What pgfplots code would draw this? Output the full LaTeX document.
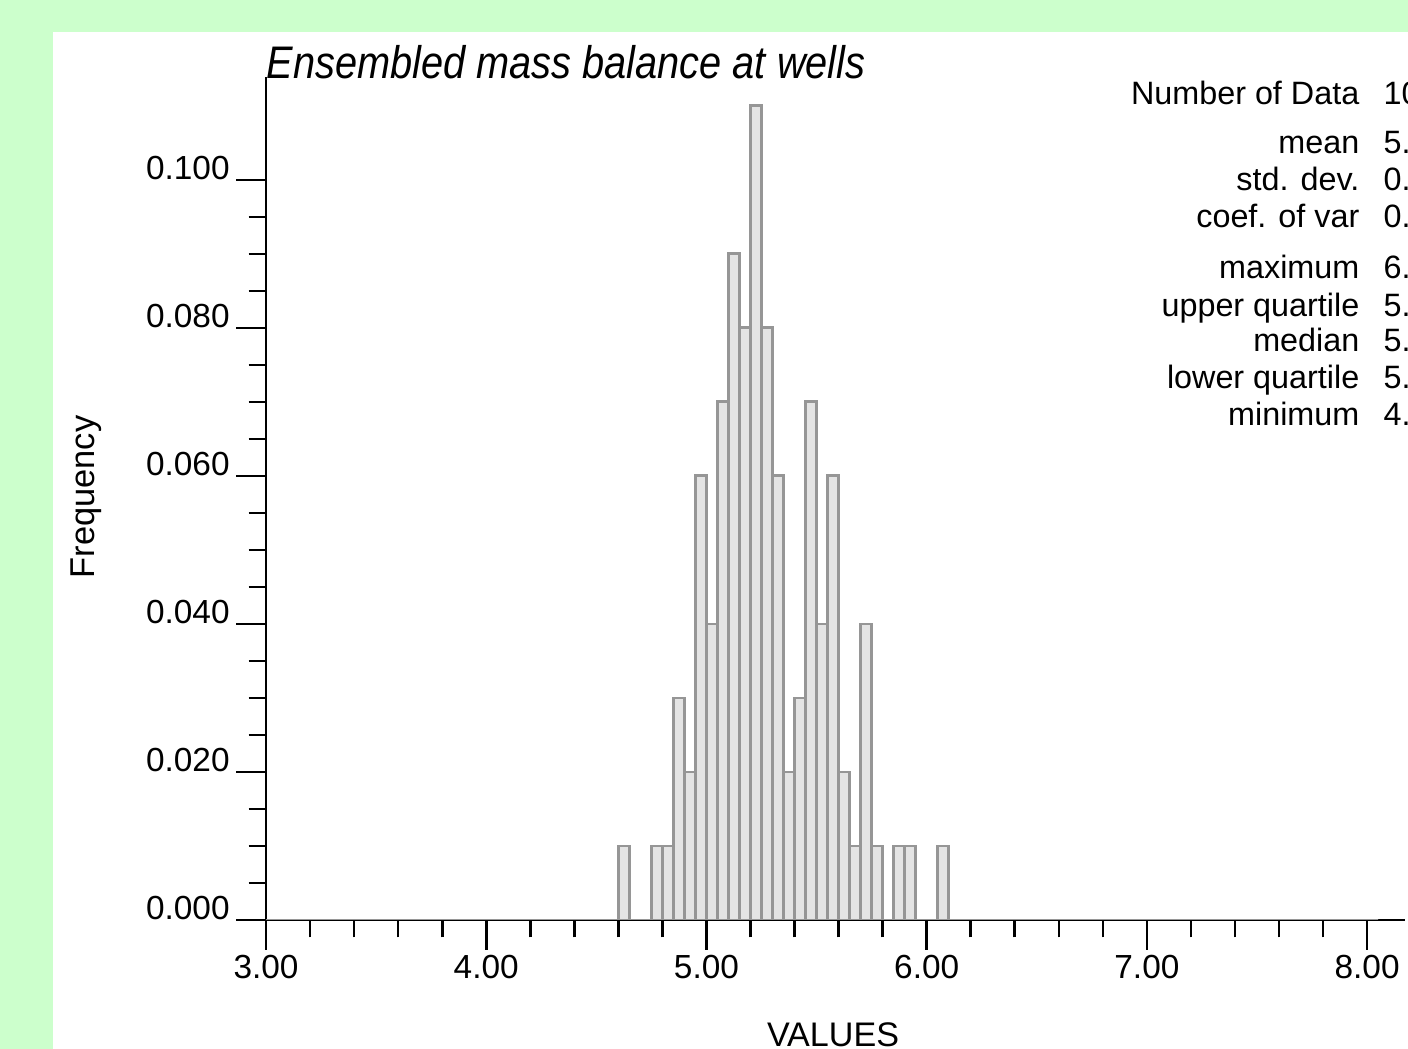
\documentclass[border=0pt]{standalone}
\usepackage{fontspec}
\setmainfont{Liberation Sans}
\usepackage{graphicx}
\usepackage{pgfplots}
\pgfplotsset{compat=1.18}

\definecolor{bggreen}{RGB}{204,255,204}
\definecolor{barfill}{RGB}{228,228,228}
\definecolor{baredge}{RGB}{150,150,150}

\begin{document}
\begin{tikzpicture}[x=1cm,y=1cm]
  % page: green frame, white panel
  \fill[bggreen] (0,0) rectangle (14.08,10.49);
  \fill[white] (0.53,0) rectangle (14.08,10.17);
  \begin{scope}
  \clip (0,0) rectangle (14.08,10.49);
  \begin{axis}[
    at={(2.66cm,1.29cm)}, anchor=south west,
    scale only axis, width=11.39cm, height=8.43cm,
    xmin=3, xmax=8.172, ymin=0, ymax=0.1139,
    axis lines*=left,
    axis line style={black, line width=0.75pt},
    every tick/.style={black, line width=0.75pt},
    tick align=outside,
    major tick length=0.3cm, minor tick length=0.175cm,
    xtick={3,4,5,6,7,8}, minor x tick num=4,
    ytick={0,0.02,0.04,0.06,0.08,0.1}, minor y tick num=3,
    scaled y ticks=false,
    /pgf/number format/assume math mode=true,
    tick label style={font=\fontsize{9.5}{11}\selectfont},
    x tick label style={yshift=0.07cm, /pgf/number format/.cd, fixed, fixed zerofill, precision=2},
    y tick label style={anchor=base east, xshift=0.06cm, /pgf/number format/.cd, fixed, fixed zerofill, precision=3},
  ]
    % histogram, bin width 0.05 (frequency per bin)
    \addplot[ybar interval, fill=barfill, draw=baredge, line width=0.8pt] coordinates {
      (3.00,0) (4.60,0.01) (4.65,0) (4.75,0.01) (4.80,0.01) (4.85,0.03)
      (4.90,0.02) (4.95,0.06) (5.00,0.04) (5.05,0.07) (5.10,0.09)
      (5.15,0.08) (5.20,0.11) (5.25,0.08) (5.30,0.06) (5.35,0.02)
      (5.40,0.03) (5.45,0.07) (5.50,0.04) (5.55,0.06) (5.60,0.02)
      (5.65,0.01) (5.70,0.04) (5.75,0.01) (5.80,0) (5.85,0.01)
      (5.90,0.01) (5.95,0) (6.05,0.01) (6.10,0) (8.05,0)
    };
  \end{axis}

  % title and axis labels
  \node[anchor=base west, inner sep=0] at (2.66,9.70)
    {\scalebox{0.87}[1]{\fontsize{13}{15}\selectfont\itshape Ensembled mass balance at wells}};
  \node[anchor=base, rotate=90, inner sep=0, font=\fontsize{9.8}{11}\selectfont] at (0.95,5.52) {Frequency};
  \node[anchor=base, inner sep=0, font=\fontsize{9.7}{11}\selectfont] at (8.33,0.02) {VALUES};

  % summary statistics (cut off at the right edge)
  \begin{scope}[every node/.style={inner sep=0, font=\fontsize{9.2}{11}\selectfont}]
    \node[anchor=base east] at (13.60,9.44) {Number of Data};
    \node[anchor=base east] at (13.60,8.95) {mean};
    \node[anchor=base east] at (13.60,8.58) {std. dev.};
    \node[anchor=base east] at (13.60,8.21) {coef. of var};
    \node[anchor=base east] at (13.60,7.70) {maximum};
    \node[anchor=base east] at (13.60,7.32) {upper quartile};
    \node[anchor=base east] at (13.60,6.97) {median};
    \node[anchor=base east] at (13.60,6.60) {lower quartile};
    \node[anchor=base east] at (13.60,6.23) {minimum};
    \node[anchor=base west] at (13.83,9.44) {10};
    \node[anchor=base west] at (13.83,8.95) {5.};
    \node[anchor=base west] at (13.83,8.58) {0.};
    \node[anchor=base west] at (13.83,8.21) {0.};
    \node[anchor=base west] at (13.83,7.70) {6.};
    \node[anchor=base west] at (13.83,7.32) {5.};
    \node[anchor=base west] at (13.83,6.97) {5.};
    \node[anchor=base west] at (13.83,6.60) {5.};
    \node[anchor=base west] at (13.83,6.23) {4.};
  \end{scope}
  \end{scope}
  \pgfresetboundingbox
  \useasboundingbox (0,0) rectangle (14.08,10.49);
\end{tikzpicture}
\end{document}
